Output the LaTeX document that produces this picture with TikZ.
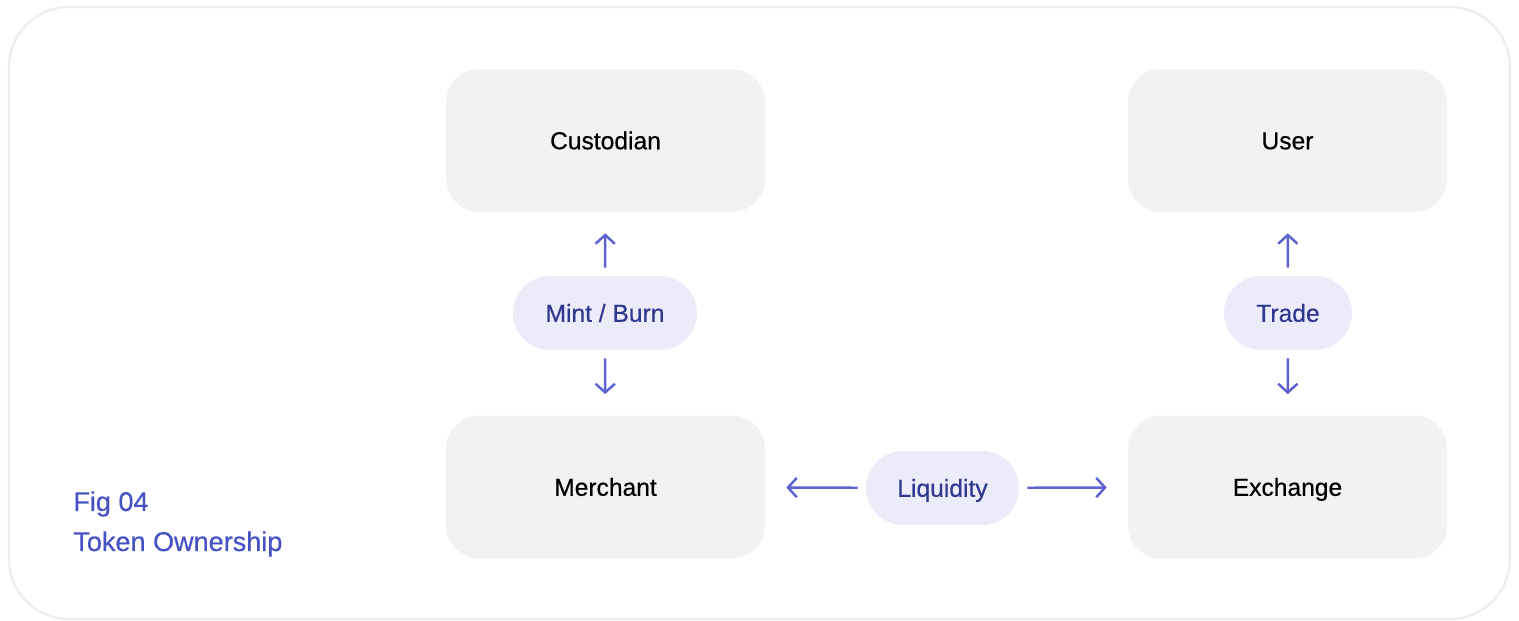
\documentclass[tikz,border=0pt]{standalone}
\usepackage{fontspec}
\setmainfont{Liberation Sans}[FakeBold=0.45]
\usetikzlibrary{arrows.meta}

\definecolor{boxgray}{HTML}{F2F2F2}
\definecolor{framegray}{HTML}{EDEDED}
\definecolor{pillfill}{HTML}{EBEBF9}
\definecolor{pilltext}{HTML}{2F3790}
\definecolor{arrowblue}{HTML}{5D62D2}
\definecolor{capblue}{HTML}{4652C4}

\tikzset{
  party/.style={fill=boxgray, rounded corners=0.66cm,
    minimum width=6.38cm, minimum height=2.86cm,
    text height=1.0em, text depth=0pt,
    font=\fontsize{14}{16}\selectfont},
  pill/.style={fill=pillfill, text=pilltext, rounded corners=0.74cm,
    minimum height=1.48cm, inner sep=0pt,
    text height=1.0em, text depth=0pt,
    font=\fontsize{14}{16}\selectfont},
  flow/.style={draw=arrowblue, line width=1.4pt,
    -{Straight Barb[length=5pt,width=11pt]},
    shorten <=0.16cm, shorten >=0.42cm},
  caption/.style={text=capblue, anchor=base west, inner sep=0pt,
    font=\fontsize{15.4}{18}\selectfont}
}

\begin{document}
\begin{tikzpicture}[x=0.02cm, y=-0.02cm]
\useasboundingbox (0, 0) rectangle (1519, 621);

% outer frame
\draw[framegray, line width=1.2pt, rounded corners=1.2cm]
  (9, 7) rectangle (1510, 619);

\node[party] (custodian) at (605.5, 140.5) {Custodian};
\node[party] (user)      at (1287.5, 140.5) {User};
\node[party] (merchant)  at (605.5, 487) {Merchant};
\node[party] (exchange)  at (1287.5, 487) {Exchange};

\node[pill, minimum width=3.68cm] (mint)      at (605, 313) {Mint / Burn};
\node[pill, minimum width=2.56cm] (trade)     at (1288, 313) {Trade};
\node[pill, minimum width=3.06cm] (liquidity) at (942.5, 488) {Liquidity};

\draw[flow] (mint) -- (custodian);
\draw[flow] (mint) -- (merchant);
\draw[flow] (trade) -- (user);
\draw[flow] (trade) -- (exchange);
\draw[flow] (liquidity) -- (merchant);
\draw[flow] (liquidity) -- (exchange);

\node[caption] (figno)    at (73, 511) {Fig 04};
\node[caption] (figtitle) at (73, 551) {Token Ownership};

\end{tikzpicture}
\end{document}
